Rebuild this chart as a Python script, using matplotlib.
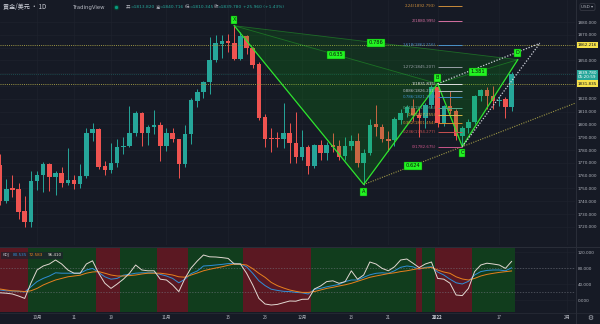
import numpy as np
import matplotlib
matplotlib.use("Agg")
import matplotlib.pyplot as plt
from matplotlib.patches import Polygon, Rectangle

CJK = ["Noto Sans CJK SC", "DejaVu Sans"]
plt.rcParams["font.family"] = ["DejaVu Sans"]

BG = "#161a25"
GRID = "#1e222d"
TXT = "#b2b5be"
UP = "#26a69a"
DOWN = "#ef5350"
PAT = "#2ee62e"
OLIVE = "#9c9645"
RED_BG = "#5b1822"
GREEN_BG = "#113d1d"

# daily bars, 2021-09-22 .. 2022-01-19 (no bar on Dec 24)
opens = [1774, 1768.3, 1740.4, 1750, 1749.3, 1732.3, 1724, 1756, 1760.2, 1769,
         1759, 1762.3, 1754, 1756.6, 1753.3, 1760, 1793.5, 1796.4, 1767.5, 1764.4,
         1769.6, 1782, 1783.4, 1793, 1808.6, 1793, 1797.7, 1799.5, 1783, 1793.5,
         1788.3, 1769, 1792.3, 1818.5, 1825, 1832.9, 1850.3, 1863, 1865.4, 1863.9,
         1851, 1868.9, 1859.4, 1847, 1805.6, 1789.5, 1789.5, 1788.3, 1793.5, 1785.2,
         1774.3, 1782, 1767.5, 1784, 1777.9, 1784, 1783, 1775, 1783, 1787,
         1770, 1777.3, 1800, 1798.2, 1788.4, 1788, 1803.4, 1808.6, 1812.6, 1807.3,
         1804.8, 1815.2, 1829.4, 1801, 1814.6, 1810.5, 1791, 1797, 1802, 1822.5,
         1826.9, 1822.5, 1818, 1819.8, 1813.82]
highs = [1787, 1777, 1757, 1760.5, 1754, 1744, 1764, 1763.8, 1770.9, 1770,
         1764, 1767, 1781.8, 1760.5, 1769, 1797, 1801.3, 1797, 1771.7, 1785.7,
         1789, 1790, 1814.4, 1810.7, 1809.5, 1799.5, 1811, 1802, 1797, 1797,
         1789, 1799.5, 1820.4, 1827.4, 1834, 1868.5, 1869.8, 1869.8, 1871, 1877.12,
         1872, 1870, 1860.7, 1849, 1808, 1797, 1794, 1816.5, 1800.8, 1810,
         1795.6, 1783.9, 1785, 1787.7, 1786.5, 1793.5, 1787.8, 1790, 1791.5, 1793,
         1780.8, 1804, 1815, 1800, 1794.6, 1806, 1812, 1815, 1820, 1813,
         1817, 1831, 1831.835, 1815.5, 1826, 1812, 1799, 1804, 1823, 1828,
         1829, 1830, 1822, 1821.7, 1840.716]
lows = [1764, 1737, 1738.8, 1743.6, 1726.3, 1719.6, 1720, 1748.8, 1747, 1748,
        1745, 1751.4, 1752.7, 1749.3, 1750, 1757.9, 1787.3, 1765, 1760.5, 1762.3,
        1767, 1776.9, 1782.6, 1791, 1783, 1783.9, 1792.5, 1771.6, 1779.6, 1786.5,
        1758.4, 1767, 1785, 1813.4, 1820.4, 1823.7, 1849, 1852, 1856.8, 1850,
        1850, 1855, 1843.8, 1803.4, 1782.6, 1778.8, 1782, 1781.3, 1769.6, 1770,
        1772, 1761.3, 1765.6, 1772, 1772, 1778.8, 1772, 1772, 1780, 1766.5,
        1753.05, 1776, 1791, 1786, 1779, 1783, 1800, 1806, 1803, 1790,
        1797, 1813, 1798, 1799, 1808, 1788, 1782.675, 1793, 1800, 1818,
        1812, 1812, 1814, 1805, 1810.345]
closes = [1768, 1740.4, 1749.3, 1749, 1731.8, 1724, 1756, 1760.2, 1769, 1759,
          1762.3, 1754, 1756.6, 1753.3, 1760, 1793.5, 1796.4, 1767, 1764.4, 1769.6,
          1782, 1783.4, 1793, 1808.6, 1793, 1797.7, 1799.5, 1783, 1793.5, 1788.3,
          1769, 1792.3, 1819, 1825, 1832.9, 1850.3, 1863.4, 1865.4, 1863.4, 1851,
          1868.9, 1859.4, 1846.4, 1804.8, 1789, 1789, 1788.5, 1793.5, 1785.2, 1774.3,
          1782, 1767.5, 1783.9, 1777.9, 1784, 1782.6, 1774.8, 1783, 1787, 1770,
          1777.3, 1799.5, 1798.2, 1788.4, 1787, 1804, 1808.6, 1813.4, 1807.3, 1804.8,
          1815.2, 1829.4, 1801, 1814.6, 1810.5, 1791, 1797, 1802, 1822.5, 1826.9,
          1822.5, 1818.5, 1818.8, 1813.82, 1839.78]

k_line = [25, 25, 23, 22.5, 21.7, 20, 33, 46, 54, 60,
          68, 67, 67, 67, 67, 75, 79, 69, 58, 52,
          54, 62, 64, 67, 68, 68, 68, 64, 60, 54,
          43, 52, 66, 72.5, 85, 86, 87.5, 89, 91, 91.7,
          90.5, 83, 66.7, 48, 36, 27, 24, 21.7, 21, 19,
          18, 15, 26.7, 29, 33, 36, 39, 46, 50, 50,
          56.7, 63, 66.7, 68, 66.7, 73, 81.7, 85, 83, 77,
          81.7, 83.3, 70, 62.5, 52, 43, 40, 46.7, 62.5, 71,
          74, 75, 75, 73, 80.535]
d_line = [29, 27.5, 25, 23, 22.5, 21, 23, 29, 37.5, 44,
          50, 54, 58, 60, 62, 67, 70, 71, 67, 62.5,
          60, 60, 61, 62.5, 65, 67, 67, 67, 65, 62.5,
          58, 57, 62.5, 67.5, 73, 76.7, 80, 83, 86.7, 90,
          89.5, 87.5, 78.3, 66.7, 56.7, 44, 35.8, 30, 25, 21.7,
          19, 19, 21, 25, 29, 31.7, 35, 38, 41.7, 46.7,
          51.7, 56.7, 60, 63, 66, 68, 71, 73, 76, 79,
          80, 81.7, 75, 70, 66.7, 58, 52.5, 50, 54, 60,
          64, 66.7, 69, 70.8, 72.583]
j_line = [21, 18, 17, 15, 10, 4, 42, 75, 85, 90,
          100, 90, 75, 67, 67, 90, 98, 67, 42, 29,
          40, 52, 67, 87.5, 75, 73, 73, 52, 50, 37.5,
          21, 54, 80, 97.5, 112.5, 108, 107.5, 106, 104, 90,
          90, 67, 37.5, 4, -10, -12.5, -11, -6.7, -2.5, -3,
          1.7, 2, 27.5, 35, 46, 48, 41.7, 46, 73, 52,
          62.5, 95, 90, 79, 73, 83, 100, 102.5, 92, 81,
          90, 95, 54, 52, 42, 12.5, 11, 29, 71, 87.5,
          92, 90, 87.5, 79, 96.41]

x_tick_bars = [7, 13, 19, 28, 38, 44, 50, 58, 64, 72, 82, 93]
x_tick_labels = ["10月", "11", "19", "11月", "15", "23", "12月", "13", "21", "2022", "17", "2月"]

price_ticks = list(range(1720, 1890, 10))
hidden_price_ticks = [1830, 1840, 1860]
kdj_ticks = [0, 40, 80, 120]
kdj_guides = [80, 20]

alert_levels = [1862.216, 1831.835]

# XABCD pattern
pat_names = ["X", "A", "B", "C", "D"]
pat_bars = [39, 60, 72, 76, 85]
pat_prices = [1877.12, 1753.05, 1831.835, 1782.675, 1850.57]
pat_label_dy = [6, -7, 6, -6, 7]
ratio_pairs = [("X", "B"), ("X", "D"), ("A", "C"), ("B", "D")]
ratio_texts = ["0.635", "0.786", "0.624", "1.381"]
proj_bar, proj_price = 88.6, 1863.4

# fib retracement B -> C
fib_ratios = ["0", "0.236", "0.382", "0.5", "0.618", "0.786", "0.886", "1",
              "1.272", "1.618", "2", "2.24"]
fib_prices = [1782.675, 1794.277, 1801.454, 1807.255, 1813.056, 1821.314, 1826.231,
              1831.835, 1845.207, 1862.216, 1880.995, 1892.793]
fib_colors = ["#c9558a", "#c85050", "#d68a2e", "#d4b84a", "#53a88b", "#3d8fc9",
              "#b8bcc4", "#e0e0e0", "#9aa0a8", "#4a90c8", "#d46fa0", "#c98b3a"]

bars = np.arange(len(closes))
o = np.array(opens); h = np.array(highs); l = np.array(lows); c = np.array(closes)
W, H = 600, 324


def box(x0, y0, x1, y1):
    return [x0 / W, 1 - y1 / H, (x1 - x0) / W, (y1 - y0) / H]


fig = plt.figure(figsize=(6, 3.24), dpi=100, facecolor=BG)
ax = fig.add_axes(box(0, 0, 575, 245), facecolor=BG)
axk = fig.add_axes(box(0, 248, 575, 312), facecolor=BG, sharex=ax)
ov = fig.add_axes([0, 0, 1, 1])
ov.set_xlim(0, W)
ov.set_ylim(H, 0)
ov.axis("off")

ax.set_xlim(0.99, 94.29)
ax.set_ylim(1705.8, 1897.2)
axk.set_ylim(-30, 130)

for a in (ax, axk):
    for s in a.spines.values():
        s.set_visible(False)
    a.set_axisbelow(True)
    a.grid(True, color=GRID, lw=0.5)
    a.yaxis.tick_right()

ax.set_xticks(x_tick_bars)
ax.tick_params(axis="x", length=0, labelbottom=False)
ax.set_yticks(price_ticks)
ax.set_yticklabels(["" if p in hidden_price_ticks else f"{p:.3f}" for p in price_ticks])
ax.tick_params(axis="y", length=0, pad=2.2, labelsize=3.0, labelcolor=TXT)

axk.set_xticklabels(x_tick_labels)
axk.tick_params(axis="x", length=0, pad=2.0, labelsize=3.2, labelcolor=TXT)
for lbl in axk.get_xticklabels():
    lbl.set_fontfamily(CJK)
    if lbl.get_text() == "2022":
        lbl.set_fontweight("bold")
        lbl.set_color("#d1d4dc")
axk.set_yticks(kdj_ticks)
axk.set_yticklabels([f"{v:.3f}" for v in kdj_ticks])
axk.tick_params(axis="y", length=0, pad=2.2, labelsize=3.0, labelcolor=TXT)

# candles
col = np.where(c >= o, UP, DOWN)
ax.vlines(bars, l, h, colors=col, lw=0.7, zorder=2)
ax.bar(bars, np.maximum(np.abs(c - o), 0.5), bottom=np.minimum(o, c),
       width=0.74, color=col, lw=0, zorder=3)

# horizontal levels
for lv in alert_levels:
    ax.axhline(lv, color=OLIVE, lw=0.7, ls=(0, (1, 1.2)), zorder=4)
ax.axhline(c[-1], color=UP, lw=0.6, ls=(0, (1, 1.5)), alpha=0.45, zorder=4)

# pattern
P = {n: (b, p) for n, b, p in zip(pat_names, pat_bars, pat_prices)}
for tri, al in ((("X", "A", "B"), 0.16), (("X", "B", "D"), 0.12), (("B", "C", "D"), 0.16)):
    ax.add_patch(Polygon([P[n] for n in tri], closed=True, fc="#00d000", alpha=al,
                         ec="none", zorder=4))
for a_, b_ in (("X", "B"), ("X", "D"), ("B", "D")):
    ax.plot([P[a_][0], P[b_][0]], [P[a_][1], P[b_][1]], color=PAT, lw=0.6, alpha=0.35, zorder=5)
ax.plot(pat_bars, pat_prices, color=PAT, lw=0.9, zorder=6)

# A -> C ray to right edge
slope = (P["C"][1] - P["A"][1]) / (P["C"][0] - P["A"][0])
x_end = ax.get_xlim()[1]
ax.plot([P["A"][0], x_end], [P["A"][1], P["A"][1] + slope * (x_end - P["A"][0])],
        color=OLIVE, lw=0.8, ls=(0, (1, 1.2)), zorder=5)

# projection wedge
for n in ("B", "C"):
    ax.plot([P[n][0], proj_bar], [P[n][1], proj_price], color="#d0d3dc",
            lw=0.9, ls=(0, (1, 1.3)), zorder=6)

# fib levels
ax.hlines(fib_prices, P["B"][0], P["C"][0], colors=fib_colors, lw=0.7, zorder=6)
for r, p, fc in zip(fib_ratios, fib_prices, fib_colors):
    ax.text(P["B"][0] - 0.3, p, f"{r}({p:.3f})", color=fc, fontsize=2.9,
            ha="right", va="center", zorder=7)

lab_box = dict(boxstyle="square,pad=0.3", fc="#22f522", ec="#0a6a0a", lw=0.3)
for (a_, b_), t in zip(ratio_pairs, ratio_texts):
    mx = (P[a_][0] + P[b_][0]) / 2
    my = (P[a_][1] + P[b_][1]) / 2
    ax.text(mx, my, t, fontsize=3.7, color="#0b1a0b", ha="center", va="center",
            bbox=lab_box, zorder=8)
for n, dy in zip(pat_names, pat_label_dy):
    ax.annotate(n, xy=P[n], xytext=(0, dy), textcoords="offset pixels", fontsize=3.6,
                color="#0b1a0b", ha="center", va="center", bbox=lab_box, zorder=8)

# price axis tags
ytr = ax.get_yaxis_transform()
for lv in alert_levels:
    ax.annotate(f"{lv:.3f}", xy=(1, lv), xycoords=ytr, xytext=(2.5, 0),
                textcoords="offset pixels", fontsize=3.0, color="#131722", ha="left",
                va="center", annotation_clip=False,
                bbox=dict(boxstyle="square,pad=0.3", fc="#f5e14a", ec="none"))
ax.annotate(f"{c[-1]:.3f}\n05:20:59", xy=(1, c[-1]), xycoords=ytr, xytext=(2.5, -1.5),
            textcoords="offset pixels", fontsize=3.0, color="white", ha="left",
            va="center", linespacing=1.15, annotation_clip=False,
            bbox=dict(boxstyle="square,pad=0.3", fc=UP, ec="none"))

# KDJ panel
green = [k > d for k, d in zip(k_line, d_line)]
start = 0
for i in range(1, len(bars) + 1):
    if i == len(bars) or green[i] != green[start]:
        axk.axvspan(start - 0.5, i - 0.5, color=GREEN_BG if green[start] else RED_BG,
                    lw=0, zorder=1)
        start = i
for g in kdj_guides:
    axk.axhline(g, color="#787b86", lw=0.5, ls=(0, (2, 2)), alpha=0.7, zorder=2)
axk.plot(bars, k_line, color="#2f8fd8", lw=0.7, zorder=3)
axk.plot(bars, d_line, color="#e8801e", lw=0.7, zorder=3)
axk.plot(bars, j_line, color="#e2d8d2", lw=0.7, zorder=3)

# separators
ov.plot([575.5, 575.5], [0, H], color="#2a2e39", lw=0.7)
ov.plot([0, W], [246.5, 246.5], color="#2a2e39", lw=0.7)
ov.plot([0, W], [312.5, 312.5], color="#2a2e39", lw=0.5)

# header
ov.text(3, 7, "黄金/美元 · 1D", fontsize=4.4, color="#d1d4dc", va="center", family=CJK)
ov.text(72, 7, "TradingView", fontsize=3.9, color=TXT, va="center")
ov.plot([116], [7], marker="o", ms=3.2, color="#089981", mec="#0b3d2e", mew=0.8)
ohlc = [("开", opens[-1], 126), ("高", highs[-1], 155.7), ("低", lows[-1], 185),
        ("收", closes[-1], 213.3)]
for name, val, xp in ohlc:
    ov.text(xp, 7, name, fontsize=3.2, color=TXT, va="center", family=CJK)
    ov.text(xp + 4.3, 7, f"={val:.3f}", fontsize=3.2, color=UP, va="center")
chg = closes[-1] - closes[-2]
ov.text(243.3, 7, f"+{chg:.3f} (+{chg / closes[-2] * 100:.2f}%)", fontsize=3.2,
        color=UP, va="center")
ov.text(587.5, 7, "USD ▾", fontsize=3.0, color=TXT, ha="center", va="center",
        bbox=dict(boxstyle="round,pad=0.35", fc=BG, ec="#434651", lw=0.4))
ov.text(590, 318, "⚙", fontsize=4.8, color=TXT, ha="center", va="center")

# KDJ legend
ov.add_patch(Rectangle((1, 251.5), 62, 7, fc="#1e222d", alpha=0.7, lw=0))
ov.text(3, 255, "KDJ", fontsize=3.0, color=TXT, va="center")
ov.text(13, 255, f"{k_line[-1]:.3f}", fontsize=3.0, color="#2f8fd8", va="center")
ov.text(29, 255, f"{d_line[-1]:.3f}", fontsize=3.0, color="#e8801e", va="center")
ov.text(48, 255, f"{j_line[-1]:.3f}", fontsize=3.0, color="#e2d8d2", va="center")

fig.savefig("out.png", dpi=100, facecolor=BG)
